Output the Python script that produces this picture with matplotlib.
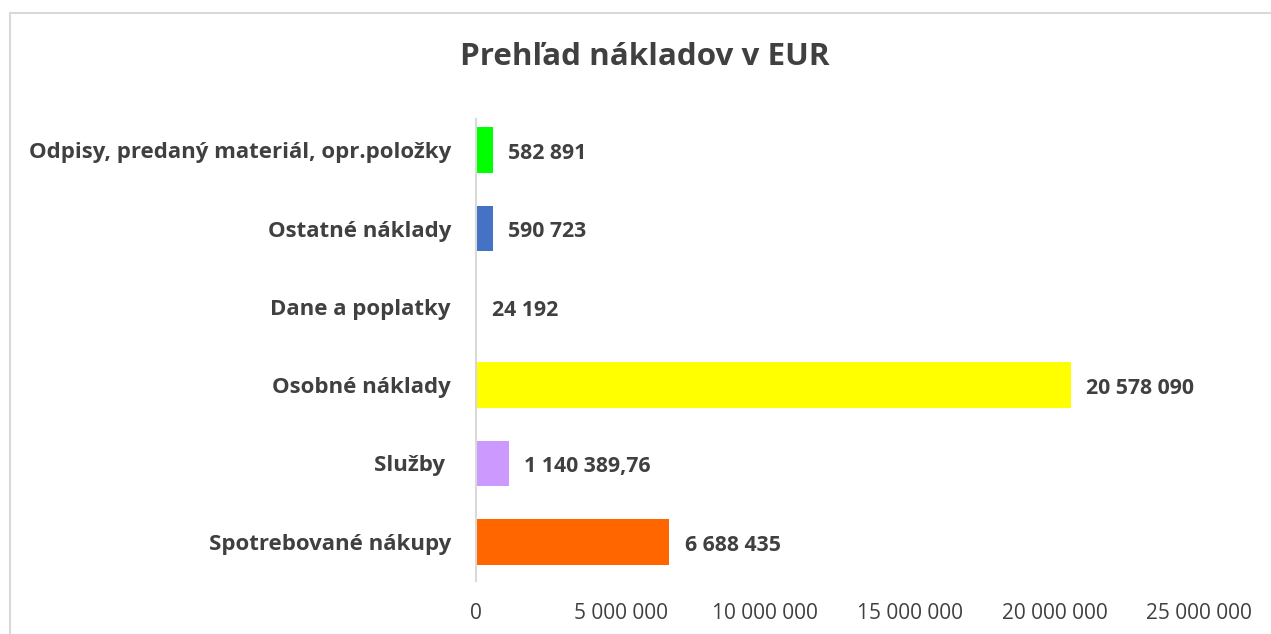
import matplotlib
matplotlib.use("Agg")
import matplotlib.pyplot as plt
from matplotlib.patches import Rectangle
from matplotlib.ticker import FuncFormatter

categories = ["Spotrebované nákupy", "Služby ", "Osobné náklady", "Dane a poplatky",
              "Ostatné náklady", "Odpisy, predaný materiál, opr.položky"]
values = [6688435, 1140389.76, 20578090, 24192, 590723, 582891]
colors = ["#FF6600", "#CC99FF", "#FFFF00", "#A5A5A5", "#4472C4", "#00FF00"]
xticks = [0, 5000000, 10000000, 15000000, 20000000, 25000000]
title = "Prehľad nákladov v EUR"

FONT = "Open Sans"
TXT = "#404040"
W, H = 1271, 634

def fmt_num(v):
    if abs(v - round(v)) > 1e-9:
        ip = int(v)
        dec = f"{v - ip:.2f}"[2:]
        return f"{ip:,}".replace(",", " ") + "," + dec
    return f"{int(round(v)):,}".replace(",", " ")

fig = plt.figure(figsize=(W / 100, H / 100), dpi=100)
fig.patch.set_facecolor("white")

# chart border
fig.add_artist(Rectangle((9.5 / W, -0.1), 1.2, (H - 12.5) / H + 0.1,
                         transform=fig.transFigure, fill=False,
                         edgecolor="#D9D9D9", linewidth=1.5))

left, right = 476 / W, 1199 / W
bottom, top = 1 - 581 / H, 1 - 111 / H
ax = fig.add_axes([left, bottom, right - left, top - bottom])

y = list(range(len(categories)))
ax.barh(y, values, height=0.58, color=colors)
ax.set_xlim(0, 25000000)
ax.set_ylim(-0.5, len(categories) - 0.5)
ax.set_xticks(xticks)
ax.xaxis.set_major_formatter(FuncFormatter(lambda v, p: fmt_num(v)))
ax.set_yticks(y)
ax.set_yticklabels(categories)

for s in ["top", "right", "bottom"]:
    ax.spines[s].set_visible(False)
ax.spines["left"].set_color("#D9D9D9")
ax.spines["left"].set_linewidth(1.5)
ax.spines["left"].set_bounds(-0.5, len(categories) - 0.6)
ax.tick_params(axis="both", length=0)
ax.tick_params(axis="x", pad=16, labelsize=15, labelcolor=TXT)
ax.tick_params(axis="y", pad=18, labelsize=16, labelcolor=TXT)
for lbl in ax.get_xticklabels():
    lbl.set_fontfamily(FONT)
for lbl in ax.get_yticklabels():
    lbl.set_fontfamily(FONT)
    lbl.set_fontweight("bold")

for yi, v in zip(y, values):
    ax.annotate(fmt_num(v), xy=(v, yi), xytext=(11, -2.5), textcoords="offset points",
                ha="left", va="center", fontsize=15.3, fontweight="bold",
                color=TXT, family=FONT)

fig.text(645 / W, 1 - 57 / H, title, ha="center", va="center",
         fontsize=22.6, fontweight="bold", color=TXT, family=FONT)

fig.savefig("out.png", dpi=100)
